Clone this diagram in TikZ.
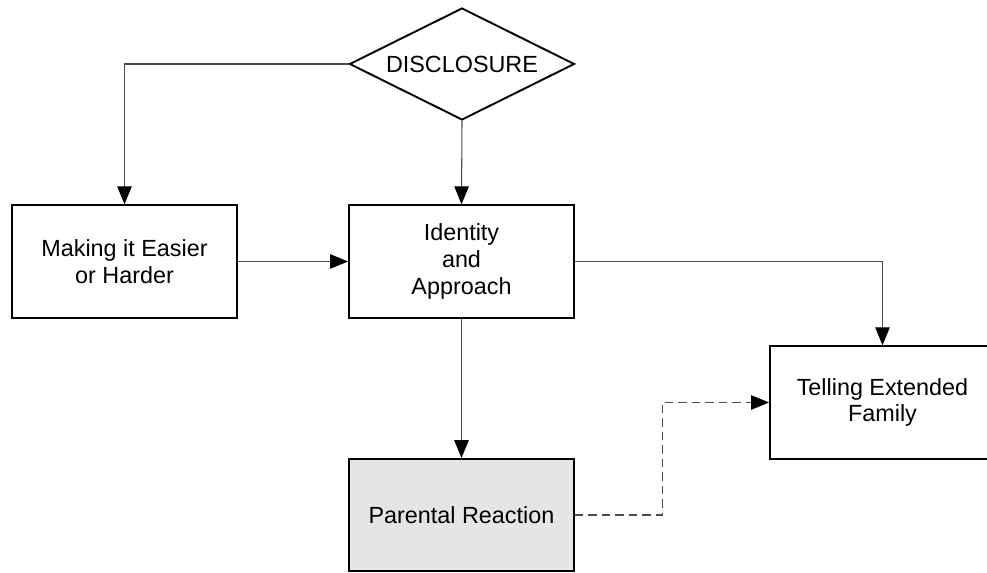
\documentclass[tikz,border=0pt]{standalone}
\usepackage{fontspec}
\setmainfont{Liberation Sans}
\usetikzlibrary{shapes.geometric,arrows.meta}

\begin{document}
\begin{tikzpicture}[x=0.02cm, y=-0.02cm,
  every node/.style={font=\fontsize{13.3}{15.3}\selectfont, align=center, inner sep=0pt},
  stage/.style={draw=black, line width=1.1pt, minimum width=4.5cm, minimum height=2.25cm},
  decision/.style={draw=black, line width=1.1pt, shape=diamond, aspect=2,
    minimum width=4.5cm, minimum height=2.24cm},
  conn/.style={draw=black!70, line width=0.6pt,
    -{Triangle[length=0.36cm, width=0.29cm, fill=black, color=black]}},
  dashconn/.style={conn, dash pattern=on 0.17cm off 0.1cm}
]
\path[use as bounding box, clip] (0,0) rectangle (987,573);

% decision and stage boxes
\node[decision] (disc) at (462,64) {DISCLOSURE};
\node[stage] (ease) at (124.5,261.5) {Making it Easier\\or Harder};
\node[stage] (ident) at (461.5,261.5) {Identity\\and\\Approach};
\node[stage] (tell) at (882.5,402.5) {Telling Extended\\Family};
\node[stage, fill=black!10, minimum height=2.24cm] (par) at (461.5,515) {Parental Reaction};

% connectors
\draw[conn] (disc.west) -| (ease.north);
\draw[conn] (disc.south) -- (ident.north);
\draw[conn] (ease.east) -- (ident.west);
\draw[conn] (ident.east) -| (tell.north);
\draw[conn] (ident.south) -- (par.north);
\path (tell.west) ++(-107,0) coordinate (bend);
\draw[dashconn] (par.east) -| (bend) -- (tell.west);
\end{tikzpicture}
\end{document}
